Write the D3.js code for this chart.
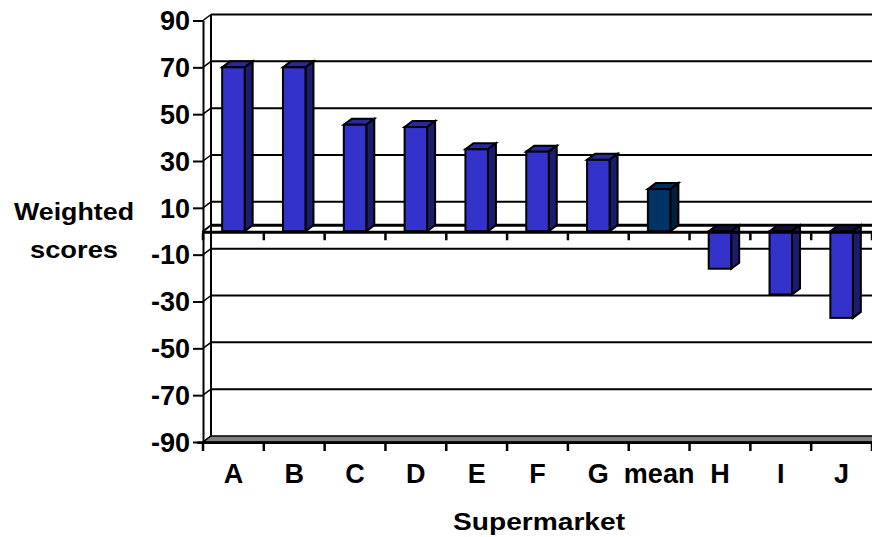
<!DOCTYPE html>
<html>
<head>
<meta charset="utf-8">
<script src="https://cdn.jsdelivr.net/npm/d3@7"></script>
<style>
  html, body { margin: 0; padding: 0; background: #fff; }
  svg { display: block; }
  text { font-family: "Liberation Sans", Arial, sans-serif; font-weight: bold; fill: #000; }
</style>
</head>
<body>
<svg id="chart" width="872" height="537"></svg>
<script>
// Weighted score per supermarket, with the overall mean in the middle
const categories = ["A", "B", "C", "D", "E", "F", "G", "mean", "H", "I", "J"];
const scores = [70, 70, 45.5, 44.5, 35, 34, 30.5, 18, -16, -27, -37];
const yTicks = [90, 70, 50, 30, 10, -10, -30, -50, -70, -90];
const yTitle = ["Weighted", "scores"];
const xTitle = "Supermarket";

const svg = d3.select("#chart");

// front plane of the plot; the back wall sits a few pixels up and to the right
const left = 203, right = 872;
const depthX = 8, depthY = -6;

const x = d3.scaleBand().domain(categories).range([left, right]).paddingInner(0).paddingOuter(0);
const y = d3.scaleLinear().domain([-90, 90]).range([442, 20.5]);
const barW = x.bandwidth() * 0.37;

const faces = {
  normal: { front: "#3333CC", side: "#1C1C6C", top: "#2828A0" },
  mean:   { front: "#003366", side: "#001E40", top: "#002A55" }
};

const y0 = y(0);
const wallTop = y(90) + depthY;
const wallBottom = y(-90) + depthY;

// back wall gridlines
const grid = svg.append("g");
grid.selectAll("line.grid")
  .data(yTicks.filter(v => v !== -90))
  .join("line")
  .attr("x1", left + depthX).attr("x2", right + 20)
  .attr("y1", d => y(d) + depthY).attr("y2", d => y(d) + depthY)
  .attr("stroke", "#000").attr("stroke-width", 2);

// short depth lines from the front axis to the back wall
grid.selectAll("line.depth")
  .data(yTicks)
  .join("line")
  .attr("x1", left).attr("x2", left + depthX)
  .attr("y1", d => y(d)).attr("y2", d => y(d) + depthY)
  .attr("stroke", "#000").attr("stroke-width", 1.5);

// back wall left edge
grid.append("line")
  .attr("x1", left + depthX).attr("x2", left + depthX)
  .attr("y1", wallTop).attr("y2", wallBottom)
  .attr("stroke", "#000").attr("stroke-width", 2);

// floor at the bottom of the value range
svg.append("path")
  .attr("d", `M${left},${y(-90)} L${right + 20},${y(-90)} L${right + 20 + depthX},${wallBottom} L${left + depthX},${wallBottom} Z`)
  .attr("fill", "#808080").attr("stroke", "#000").attr("stroke-width", 1.5);
svg.append("line")
  .attr("x1", left - 6).attr("x2", right + 20)
  .attr("y1", y(-90) + 0.8).attr("y2", y(-90) + 0.8)
  .attr("stroke", "#000").attr("stroke-width", 2.5);

// back edge of the zero plane
svg.append("line")
  .attr("x1", left + depthX).attr("x2", right + 20)
  .attr("y1", y0 + depthY).attr("y2", y0 + depthY)
  .attr("stroke", "#000").attr("stroke-width", 3);
svg.append("line")
  .attr("x1", left).attr("x2", left + depthX)
  .attr("y1", y0).attr("y2", y0 + depthY)
  .attr("stroke", "#000").attr("stroke-width", 2);

// 3D columns
const bars = svg.append("g")
  .selectAll("g.bar")
  .data(categories.map((c, i) => ({ c, v: scores[i] })))
  .join("g")
  .attr("stroke", "#000").attr("stroke-width", 2).attr("stroke-linejoin", "miter");

bars.each(function(d) {
  const g = d3.select(this);
  const col = d.c === "mean" ? faces.mean : faces.normal;
  const xl = x(d.c) + (x.bandwidth() - barW) / 2;
  const xr = xl + barW;
  const yv = y(d.v);
  const yTopFront = Math.min(yv, y0), yBotFront = Math.max(yv, y0);
  // top face sits at the higher end of the column
  g.append("path")
    .attr("d", `M${xl},${yTopFront} L${xl + depthX},${yTopFront + depthY} L${xr + depthX},${yTopFront + depthY} L${xr},${yTopFront} Z`)
    .attr("fill", d.v < 0 ? "#111133" : col.top);
  // right side face
  g.append("path")
    .attr("d", `M${xr},${yTopFront} L${xr + depthX},${yTopFront + depthY} L${xr + depthX},${yBotFront + depthY} L${xr},${yBotFront} Z`)
    .attr("fill", col.side);
  // front face
  g.append("rect")
    .attr("x", xl).attr("y", yTopFront)
    .attr("width", barW).attr("height", yBotFront - yTopFront)
    .attr("fill", col.front);
});

// front edge of the zero plane (category axis)
svg.append("line")
  .attr("x1", left - 1).attr("x2", right + 20)
  .attr("y1", y0 + 1).attr("y2", y0 + 1)
  .attr("stroke", "#000").attr("stroke-width", 3);

// category tick marks at band boundaries, on the zero axis and under the floor
const bounds = d3.range(categories.length + 1).map(i => left + i * x.step());
[y0 + 2, y(-90) + 2].forEach(yy => {
  svg.append("g").selectAll("line")
    .data(bounds)
    .join("line")
    .attr("x1", d => d).attr("x2", d => d)
    .attr("y1", yy).attr("y2", yy + 7)
    .attr("stroke", "#000").attr("stroke-width", 2.5);
});

// value axis on the front left edge (plain hyphen for negatives)
const yAxis = svg.append("g")
  .attr("transform", `translate(${left},0)`)
  .call(d3.axisLeft(y).tickValues(yTicks).tickFormat(d => String(d))
    .tickSize(10).tickSizeOuter(0).tickPadding(3));
yAxis.attr("font-family", null).attr("font-size", null);
yAxis.select(".domain").attr("stroke", "#000").attr("stroke-width", 2);
yAxis.selectAll(".tick line").attr("stroke", "#000").attr("stroke-width", 2);
yAxis.selectAll(".tick text")
  .attr("font-size", 27).attr("fill", "#000")
  .attr("dy", "0.34em");

// category labels
svg.append("g").selectAll("text")
  .data(categories)
  .join("text")
  .attr("x", d => x(d) + x.bandwidth() / 2)
  .attr("y", 483)
  .attr("text-anchor", "middle")
  .attr("font-size", 27)
  .text(d => d);

// axis titles, slightly wide-set
const titleWidths = { Weighted: 120, scores: 88 };
svg.append("g").selectAll("text")
  .data(yTitle)
  .join("text")
  .attr("x", 74)
  .attr("y", (d, i) => 220 + i * 38)
  .attr("text-anchor", "middle")
  .attr("font-size", 24)
  .attr("textLength", d => titleWidths[d])
  .attr("lengthAdjust", "spacingAndGlyphs")
  .text(d => d);

svg.append("text")
  .attr("x", 539).attr("y", 530)
  .attr("text-anchor", "middle")
  .attr("font-size", 24)
  .attr("textLength", 172)
  .attr("lengthAdjust", "spacingAndGlyphs")
  .text(xTitle);
</script>
</body>
</html>
